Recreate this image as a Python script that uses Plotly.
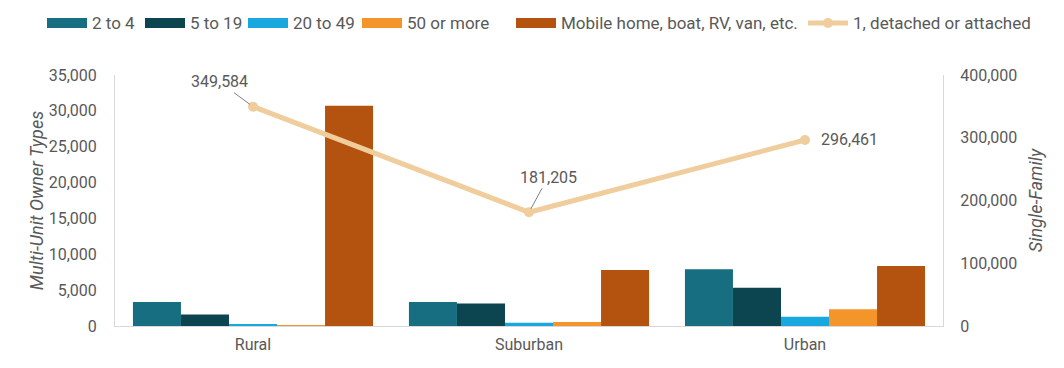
import plotly.graph_objects as go

categories = ["Rural", "Suburban", "Urban"]
series_names = ["2 to 4", "5 to 19", "20 to 49", "50 or more", "Mobile home, boat, RV, van, etc."]
series_values = {
    "2 to 4": [3350, 3350, 7900],
    "5 to 19": [1600, 3150, 5350],
    "20 to 49": [150, 450, 1300],
    "50 or more": [50, 550, 2330],
    "Mobile home, boat, RV, van, etc.": [30700, 7800, 8370],
}
colors = {
    "2 to 4": "#176e80",
    "5 to 19": "#0c4450",
    "20 to 49": "#19a7e0",
    "50 or more": "#f4952b",
    "Mobile home, boat, RV, van, etc.": "#b4530f",
}
line_name = "1, detached or attached"
single_family = [349584, 181205, 296461]
line_color = "#efcd9c"
left_ticks = [0, 5000, 10000, 15000, 20000, 25000, 30000, 35000]
right_ticks = [0, 100000, 200000, 300000, 400000]

FONT = "Roboto, sans-serif"
GRAY = "#595959"
FS = 16

# layout geometry (pixels)
W, H = 1064, 368
ML, MR, MT, MB = 115, 121, 75, 42
PW, PH = W - ML - MR, H - MT - MB
# legend: x pixel where each legend text starts, legend row centre y
legend_text_x = [91, 189, 292, 406, 560, 852]
legend_y = 23


def px_x(p):
    return (p - ML) / PW


def px_y(p):
    return (H - MB - p) / PH


fig = go.Figure()
for name in series_names:
    fig.add_trace(go.Bar(
        x=categories, y=series_values[name], name=name,
        marker=dict(color=colors[name], line=dict(width=0)),
        showlegend=False, yaxis="y",
    ))

fig.add_trace(go.Scatter(
    x=categories, y=single_family, name=line_name, yaxis="y2",
    mode="lines+markers", showlegend=False,
    line=dict(color=line_color, width=5),
    marker=dict(color=line_color, size=10),
))

label_offsets = [(-34, -25), (19, -35), (44, 0)]
for cat, val, (ax, ay) in zip(categories, single_family, label_offsets):
    show_arrow = ay != 0
    fig.add_annotation(
        x=cat, y=val, xref="x", yref="y2", text=f"{val:,}",
        showarrow=show_arrow, arrowhead=0, arrowcolor="#7f7f7f", arrowwidth=1,
        ax=ax, ay=ay, standoff=4,
        xshift=0 if show_arrow else ax,
        font=dict(family=FONT, size=FS, color=GRAY),
    )

# custom legend (wide swatches like the original)
legend_names = series_names + [line_name]
for i, name in enumerate(legend_names):
    tx = legend_text_x[i]
    if name in colors:
        fig.add_shape(
            type="rect", xref="paper", yref="paper",
            x0=px_x(tx - 44), x1=px_x(tx - 4),
            y0=px_y(legend_y + 5), y1=px_y(legend_y - 5),
            fillcolor=colors[name], line=dict(width=0),
        )
    else:
        fig.add_shape(
            type="line", xref="paper", yref="paper",
            x0=px_x(tx - 44), x1=px_x(tx - 4),
            y0=px_y(legend_y), y1=px_y(legend_y),
            line=dict(color=line_color, width=5),
        )
        fig.add_shape(
            type="circle", xref="paper", yref="paper",
            x0=px_x(tx - 29), x1=px_x(tx - 19),
            y0=px_y(legend_y + 5), y1=px_y(legend_y - 5),
            fillcolor=line_color, line=dict(width=0),
        )
    fig.add_annotation(
        x=px_x(tx), y=px_y(legend_y), xref="paper", yref="paper",
        xanchor="left", yanchor="middle", showarrow=False, text=name,
        font=dict(family=FONT, size=17, color=GRAY), borderpad=0,
    )

fig.update_layout(
    width=W, height=H,
    margin=dict(l=ML, r=MR, t=MT, b=MB, autoexpand=False),
    paper_bgcolor="white", plot_bgcolor="white",
    barmode="group", bargap=0.13, bargroupgap=0,
    font=dict(family=FONT, size=FS, color=GRAY),
    showlegend=False,
    xaxis=dict(
        showline=True, linecolor="#d9d9d9", linewidth=1, ticks="",
        tickfont=dict(family=FONT, size=FS, color=GRAY),
        ticklabelstandoff=4,
    ),
    yaxis=dict(
        range=[0, 35000], tickvals=left_ticks, tickformat=",",
        showgrid=False, zeroline=False, showline=True, linecolor="#d9d9d9",
        tickfont=dict(family=FONT, size=FS, color=GRAY),
        ticklabelstandoff=14,
        title=dict(text="<i>Multi-Unit Owner Types</i>", standoff=0,
                   font=dict(family=FONT, size=18, color=GRAY)),
    ),
    yaxis2=dict(
        range=[0, 400000], tickvals=right_ticks, tickformat=",",
        overlaying="y", side="right", anchor="x",
        showgrid=False, zeroline=False, showline=True, linecolor="#d9d9d9",
        tickfont=dict(family=FONT, size=FS, color=GRAY),
        ticklabelstandoff=13,
        title=dict(text="<i>Single-Family</i>", standoff=13,
                   font=dict(family=FONT, size=18, color=GRAY)),
    ),
)

fig.write_html("out.html")
